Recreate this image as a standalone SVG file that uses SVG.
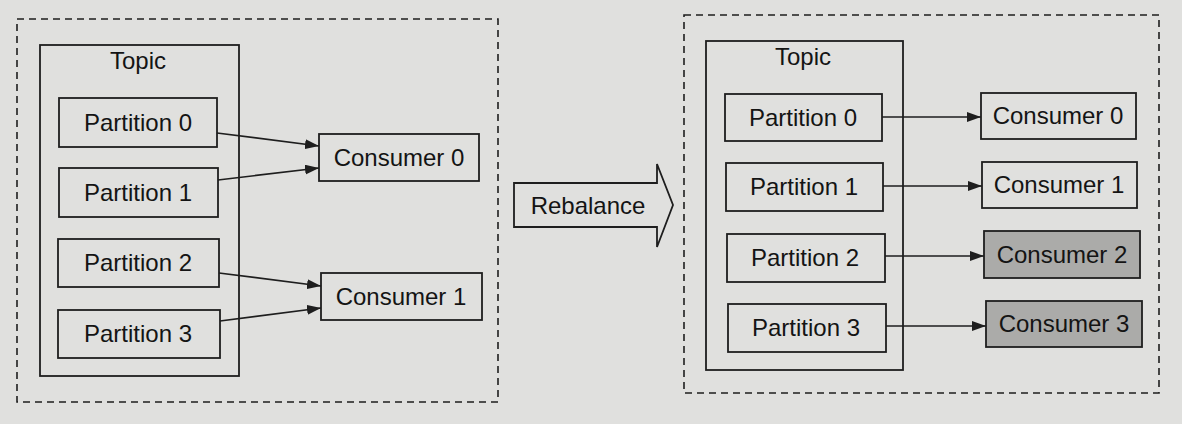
<svg xmlns="http://www.w3.org/2000/svg" width="1182" height="424" viewBox="0 0 1182 424">
<defs>
<style>
.bg{fill:#e0e0de}
.box{fill:none;stroke:#1e1e1e;stroke-width:1.8}
.gray{fill:#ababa9;stroke:#1e1e1e;stroke-width:1.8}
.dash{fill:none;stroke:#1e1e1e;stroke-width:1.6;stroke-dasharray:7 5}
.t{font-family:"Liberation Sans",Arial,sans-serif;font-size:24px;fill:#141414;text-anchor:middle}
.c{fill:none;stroke:#1e1e1e;stroke-width:1.7}
</style>
<marker id="ah" viewBox="0 0 14 10" refX="14" refY="5" markerWidth="14" markerHeight="10" markerUnits="userSpaceOnUse" orient="auto">
<path d="M0,0 L14,5 L0,10 Z" fill="#1e1e1e"/>
</marker>
</defs>
<rect class="bg" x="0" y="0" width="1182" height="424"/>

<g id="left-cluster">
<rect class="dash" x="17" y="19" width="481" height="383"/>
</g>
<g id="left-topic">
<rect class="box" x="40" y="45" width="199" height="331"/>
<text class="t" x="138" y="69">Topic</text>
</g>
<g id="left-p0"><rect class="box" x="59" y="98" width="158" height="49"/><text class="t" x="138" y="131">Partition 0</text></g>
<g id="left-p1"><rect class="box" x="59" y="168" width="159" height="49"/><text class="t" x="138" y="201">Partition 1</text></g>
<g id="left-p2"><rect class="box" x="58" y="239" width="161" height="48"/><text class="t" x="138" y="271">Partition 2</text></g>
<g id="left-p3"><rect class="box" x="58" y="310" width="162" height="48"/><text class="t" x="138" y="342">Partition 3</text></g>
<g id="left-c0"><rect class="box" x="319" y="134" width="160" height="47"/><text class="t" x="399" y="166">Consumer 0</text></g>
<g id="left-c1"><rect class="box" x="321" y="273" width="161" height="47"/><text class="t" x="401" y="305">Consumer 1</text></g>

<g id="rebalance">
<path class="box" d="M514,183 L657,183 L657,164 L673,205 L657,247 L657,227 L514,227 Z"/>
<text class="t" x="588" y="214">Rebalance</text>
</g>

<g id="right-cluster">
<rect class="dash" x="684" y="15" width="475" height="378"/>
</g>
<g id="right-topic">
<rect class="box" x="706" y="41" width="197" height="329"/>
<text class="t" x="803" y="65">Topic</text>
</g>
<g id="right-p0"><rect class="box" x="725" y="94" width="157" height="47"/><text class="t" x="803" y="126">Partition 0</text></g>
<g id="right-p1"><rect class="box" x="726" y="163" width="157" height="48"/><text class="t" x="804" y="195">Partition 1</text></g>
<g id="right-p2"><rect class="box" x="727" y="234" width="158" height="48"/><text class="t" x="805" y="266">Partition 2</text></g>
<g id="right-p3"><rect class="box" x="728" y="304" width="158" height="48"/><text class="t" x="806" y="336">Partition 3</text></g>
<g id="right-c0"><rect class="box" x="981" y="93" width="155" height="46"/><text class="t" x="1058" y="124">Consumer 0</text></g>
<g id="right-c1"><rect class="box" x="982" y="162" width="155" height="46"/><text class="t" x="1059" y="193">Consumer 1</text></g>
<g id="right-c2"><rect class="gray" x="984" y="231" width="156" height="47"/><text class="t" x="1062" y="263">Consumer 2</text></g>
<g id="right-c3"><rect class="gray" x="986" y="301" width="156" height="46"/><text class="t" x="1064" y="332">Consumer 3</text></g>

<g id="connectors">
<line class="c" x1="217" y1="133" x2="319" y2="146" marker-end="url(#ah)"/>
<line class="c" x1="218" y1="180" x2="319" y2="168" marker-end="url(#ah)"/>
<line class="c" x1="219" y1="273" x2="321" y2="286" marker-end="url(#ah)"/>
<line class="c" x1="220" y1="321" x2="321" y2="308" marker-end="url(#ah)"/>
<line class="c" x1="882" y1="117" x2="981" y2="117" marker-end="url(#ah)"/>
<line class="c" x1="883" y1="186" x2="982" y2="186" marker-end="url(#ah)"/>
<line class="c" x1="885" y1="256" x2="984" y2="256" marker-end="url(#ah)"/>
<line class="c" x1="886" y1="326" x2="986" y2="326" marker-end="url(#ah)"/>
</g>
</svg>
